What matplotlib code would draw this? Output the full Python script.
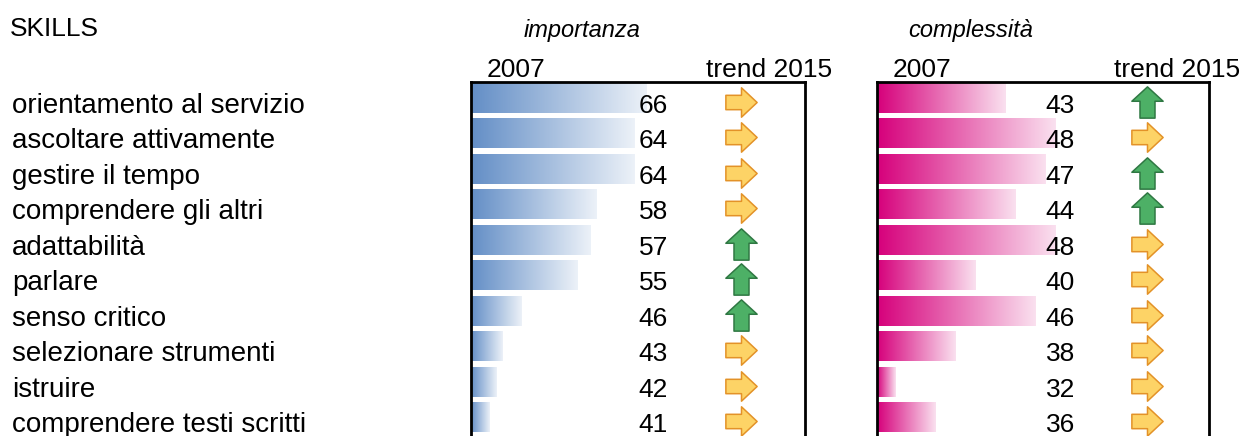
"""Skills table: importanza / complessità 2007 data bars with 2015 trend icons."""
import matplotlib

matplotlib.use("Agg")
import matplotlib.pyplot as plt
import numpy as np
from matplotlib import transforms
from matplotlib.colors import LinearSegmentedColormap, to_rgb
from matplotlib.path import Path

skills = [
    "orientamento al servizio",
    "ascoltare attivamente",
    "gestire il tempo",
    "comprendere gli altri",
    "adattabilità",
    "parlare",
    "senso critico",
    "selezionare strumenti",
    "istruire",
    "comprendere testi scritti",
]
importanza_2007 = [66, 64, 64, 58, 57, 55, 46, 43, 42, 41]
importanza_trend = ["flat", "flat", "flat", "flat", "up", "up", "up", "flat", "flat", "flat"]
complessita_2007 = [43, 48, 47, 44, 48, 40, 46, 38, 32, 36]
complessita_trend = ["up", "flat", "up", "up", "flat", "flat", "flat", "flat", "flat", "flat"]

# data-bar scale (Excel style: bars start from a floor, not from zero)
IMP_XLIM = (38.0, 91.2)
CMP_XLIM = (30.1, 63.4)
BLUE = "#638EC6"
PINK = "#D6007B"

W, H = 1243, 436
ROW_PX = 35.5       # row pitch in pixels
FIRST_ROW_PX = 98   # centre of first bar
TOP_PX = 82         # top border of the boxes
BOTTOM_PX = 470     # boxes run past the bottom of the picture
BAR_H = 0.83

SANS = ["Liberation Sans", "DejaVu Sans"]

fig = plt.figure(figsize=(W / 100, H / 100), dpi=100)


def box_axes(left, right):
    ax = fig.add_axes([left / W, 1 - BOTTOM_PX / H, (right - left) / W,
                       (BOTTOM_PX - TOP_PX) / H])
    ax.set_xticks([])
    ax.set_yticks([])
    for sp in ax.spines.values():
        sp.set_linewidth(2.0)
        sp.set_color("black")
    return ax


def light(color, amount):
    r, g, b = to_rgb(color)
    return (r + (1 - r) * amount, g + (1 - g) * amount, b + (1 - b) * amount)


# icon shapes, drawn as markers (width 1)
RIGHT_ARROW = Path([(-0.5, 0.23), (0.0, 0.23), (0.0, 0.47), (0.5, 0.0),
                    (0.0, -0.47), (0.0, -0.23), (-0.5, -0.23), (-0.5, 0.23)],
                   closed=True)
UP_ARROW = Path([(-0.24, -0.5), (-0.24, 0.04), (-0.5, 0.04), (0.0, 0.5),
                 (0.5, 0.04), (0.24, 0.04), (0.24, -0.5), (-0.24, -0.5)],
                closed=True)
ICON = {
    "flat": dict(marker=RIGHT_ARROW, mfc="#FDD366", mec="#E39228"),
    "up": dict(marker=UP_ARROW, mfc="#4DB066", mec="#2F7843"),
}


def panel(ax, values, trends, xlim, color, num_x, icon_x):
    cmap = LinearSegmentedColormap.from_list("bar", [color, light(color, 0.88)])
    grad = np.linspace(0, 1, 256).reshape(1, -1)
    for i, v in enumerate(values):
        ax.imshow(grad, cmap=cmap, aspect="auto", interpolation="bilinear",
                  extent=(xlim[0], v, i + BAR_H / 2, i - BAR_H / 2), zorder=1)
    ax.set_xlim(*xlim)
    top = -(FIRST_ROW_PX - TOP_PX) / ROW_PX
    bottom = (BOTTOM_PX - FIRST_ROW_PX) / ROW_PX
    ax.set_ylim(bottom, top)

    tr = transforms.blended_transform_factory(ax.transAxes, ax.transData)
    for i, (v, t) in enumerate(zip(values, trends)):
        ax.text(num_x, i + 0.41, str(v), transform=tr, ha="right", va="baseline",
                fontsize=19, family=SANS, zorder=3)
        ax.plot([icon_x], [i + 0.11], transform=tr, ms=22.5, mew=1.1,
                clip_on=False, zorder=3, **ICON[t])


ax_imp = box_axes(471, 805)
ax_cmp = box_axes(877, 1209)
panel(ax_imp, importanza_2007, importanza_trend, IMP_XLIM, BLUE,
      (668 - 471) / 334, (741 - 471) / 334)
panel(ax_cmp, complessita_2007, complessita_trend, CMP_XLIM, PINK,
      (1075 - 877) / 332, (1147 - 877) / 332)

# row labels
lab_tr = transforms.blended_transform_factory(fig.transFigure, ax_imp.transData)
for i, s in enumerate(skills):
    fig.text(12 / W, i + 0.41, s, transform=lab_tr, ha="left", va="baseline",
             fontsize=20, family=SANS)

# headers
fig.text(10 / W, 1 - 36 / H, "SKILLS", ha="left", va="baseline", fontsize=19,
         family=SANS)
fig.text(582 / W, 1 - 37 / H, "importanza", ha="center", va="baseline",
         fontsize=17, style="italic", family=SANS)
fig.text(971 / W, 1 - 37 / H, "complessità", ha="center", va="baseline",
         fontsize=17, style="italic", family=SANS)
for left, right in [(487, 832), (893, 1240)]:
    fig.text(left / W, 1 - 77 / H, "2007", ha="left", va="baseline",
             fontsize=19, family=SANS)
    fig.text(right / W, 1 - 77 / H, "trend 2015", ha="right", va="baseline",
             fontsize=19, family=SANS)

fig.savefig("out.png", dpi=100)
